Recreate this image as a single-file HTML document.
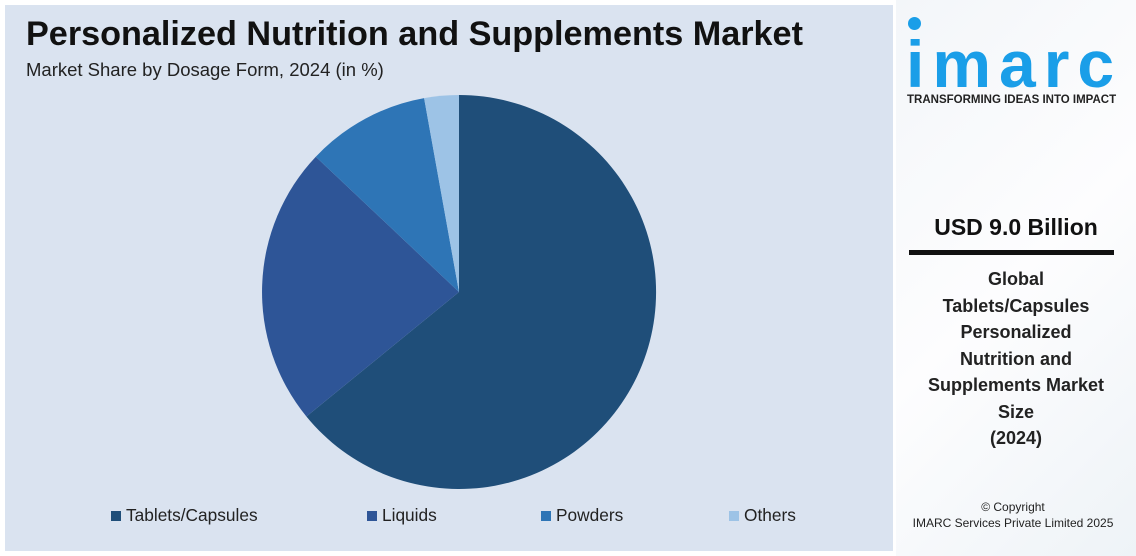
<!DOCTYPE html>
<html><head><meta charset="utf-8"><style>
body{margin:0;width:1136px;height:556px;overflow:hidden;font-family:"Liberation Sans",sans-serif;background:#fff}
.left{position:absolute;left:5px;top:5px;width:888px;height:546px;background:#dae3f0}
.right{position:absolute;left:896px;top:0;width:240px;height:556px;background:linear-gradient(135deg,#f3f6f9,#fdfdfe 50%,#eef3f7)}
h1{position:absolute;left:26px;top:15px;margin:0;font-size:34.2px;font-weight:bold;color:#111;white-space:nowrap}
.sub{position:absolute;left:26px;top:59px;font-size:18.5px;color:#222;white-space:nowrap}
.leg{position:absolute;top:505px;font-size:17.3px;color:#222;white-space:nowrap}
.leg i{display:inline-block;width:10px;height:10px;margin-right:5px}
</style></head><body>
<div class="left"></div>
<h1>Personalized Nutrition and Supplements Market</h1>
<div class="sub">Market Share by Dosage Form, 2024 (in %)</div>
<svg style="position:absolute;left:0;top:0" width="896" height="556">
<path d="M459,292 L459,95 A197,197 0 1 1 306.4,416.5 Z" fill="#1f4e79"/>
<path d="M459,292 L306.4,416.5 A197,197 0 0 1 315.8,156.7 Z" fill="#2e5597"/>
<path d="M459,292 L315.8,156.7 A197,197 0 0 1 424.1,98.1 Z" fill="#2e75b6"/>
<path d="M459,292 L424.1,98.1 A197,197 0 0 1 459,95 Z" fill="#9dc3e6"/>
</svg>
<div class="leg" style="left:111px"><i style="background:#1f4e79"></i>Tablets/Capsules</div>
<div class="leg" style="left:367px"><i style="background:#2e5597"></i>Liquids</div>
<div class="leg" style="left:541px"><i style="background:#2e75b6"></i>Powders</div>
<div class="leg" style="left:729px"><i style="background:#9dc3e6"></i>Others</div>
<div class="right">
<div style="position:absolute;left:12px;top:17px;width:13px;height:13px;border-radius:50%;background:#1a9ee8"></div>
<div style="position:absolute;left:10px;top:24px;font-size:66px;font-weight:bold;color:#1a9ee8;letter-spacing:8px;line-height:80px;white-space:nowrap">imarc</div>
<div style="position:absolute;left:11px;top:94px;font-size:11.5px;font-weight:bold;color:#222;white-space:nowrap">TRANSFORMING IDEAS INTO IMPACT</div>
<div style="position:absolute;left:0;width:240px;top:214px;text-align:center;font-size:23px;font-weight:bold;color:#111">USD 9.0 Billion</div>
<div style="position:absolute;left:13px;top:250px;width:205px;height:5px;background:#111"></div>
<div style="position:absolute;left:0;width:240px;top:266px;text-align:center;font-size:18px;font-weight:bold;color:#222;line-height:26.5px">Global<br>Tablets/Capsules<br>Personalized<br>Nutrition and<br>Supplements Market<br>Size<br>(2024)</div>
<div style="position:absolute;left:0;width:234px;top:499px;text-align:center;font-size:12px;color:#222;line-height:16px">© Copyright<br>IMARC Services Private Limited 2025</div>
</div>
</body></html>
